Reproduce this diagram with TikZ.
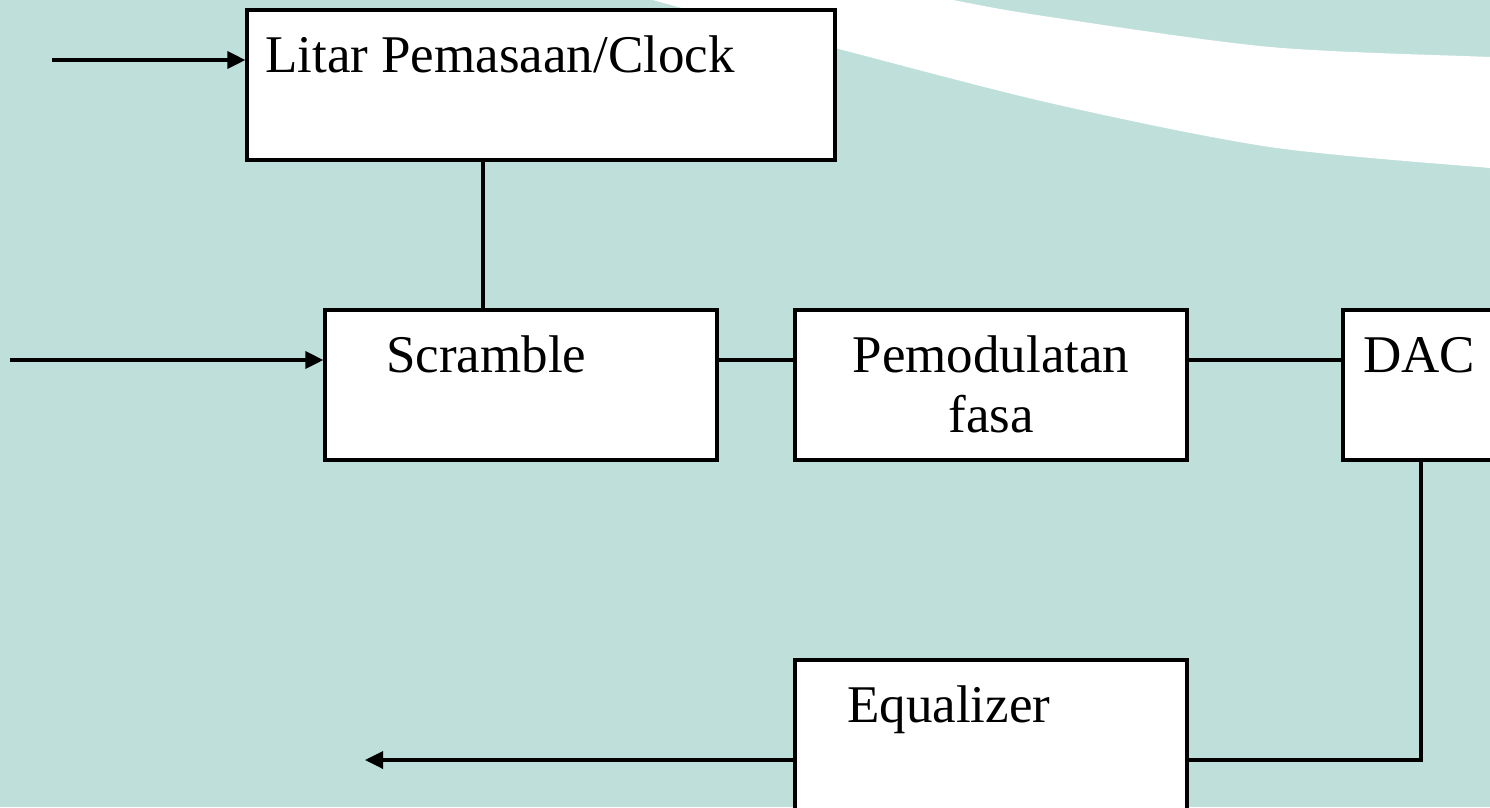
\documentclass[tikz,border=0pt]{standalone}
\usepackage{fontspec}
\setmainfont{Liberation Serif}
\usetikzlibrary{arrows.meta}
\definecolor{slidebg}{RGB}{191,224,218}
\tikzset{
  blk/.style={draw=black, fill=white, line width=3.2pt, inner sep=0pt},
  lbl/.style={inner sep=0pt, font=\fontsize{53}{60}\selectfont},
  wire/.style={line width=3.4pt, line cap=rect},
  arr/.style={line width=3.4pt, -{Triangle[length=18pt,width=17pt]}},
}
\begin{document}
\begin{tikzpicture}[x=1pt,y=-1pt]
  % slide background
  \fill[slidebg] (0,0) rectangle (1490,807);
  \useasboundingbox (0,0) rectangle (1490,807);
  \clip (0,0) rectangle (1490,807);
  % white swoosh across the top right
  \fill[white] plot[smooth] coordinates {(760,-40) (953,0) (1050,17) (1270,47) (1490,57) (1520,58)}
    -- (1520,170)
    -- plot[smooth] coordinates {(1520,170) (1490,168) (1270,147) (1050,103) (835,48) (700,13) (600,-15)} -- cycle;

  % blocks
  \node[blk, minimum width=588pt, minimum height=150pt] (clock) at (541,85) {};
  \node[blk, minimum width=392pt, minimum height=150pt] (scr) at (521,385) {};
  \node[blk, minimum width=392pt, minimum height=150pt] (mod) at (991,385) {};
  \node[blk, minimum width=156pt, minimum height=150pt] (dac) at (1421,385) {};
  \node[blk, minimum width=392pt, minimum height=150pt] (eq) at (991,735) {};

  % block texts
  \node[lbl, anchor=base west] (clocktxt) at (265,72) {Litar Pemasaan/Clock};
  \node[lbl, anchor=base west] (scrtxt) at (386,372) {Scramble};
  \node[lbl, anchor=base] (modtxt) at (991,372) {Pemodulatan};
  \node[lbl, anchor=base] (modtxtb) at (991,432) {fasa};
  \node[lbl, anchor=base west] (dactxt) at (1363,372) {DAC};
  \node[lbl, anchor=base west] (eqtxt) at (847,722) {Equalizer};

  % connector end points and levels
  \coordinate (clkin) at (52,60);
  \coordinate (datain) at (10,360);
  \coordinate (tap) at (483,0);
  \coordinate (eqlevel) at (0,760);
  \coordinate (out) at (365,760);

  % connectors
  \draw[arr] (clkin) -- (clkin -| clock.west);
  \draw[wire] (tap |- clock.south) -- (tap |- scr.north);
  \draw[arr] (datain) -- (datain -| scr.west);
  \draw[wire] (scr.east |- datain) -- (mod.west |- datain);
  \draw[wire] (mod.east |- datain) -- (dac.west |- datain);
  \draw[wire] (dac.south) -- (dac.south |- eqlevel) -- (eq.east |- eqlevel);
  \draw[arr] (eq.west |- eqlevel) -- (out);
\end{tikzpicture}
\end{document}
